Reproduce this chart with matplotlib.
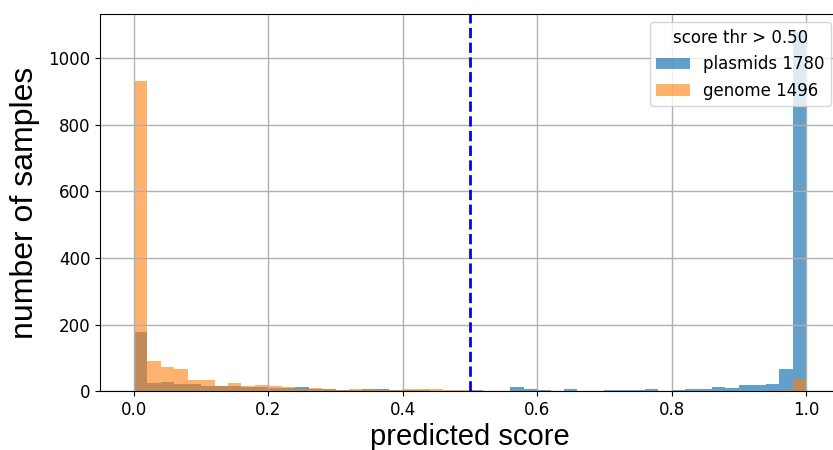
import numpy as np
import matplotlib
matplotlib.use('Agg')
import matplotlib.pyplot as plt

# histogram counts per bin (50 bins of width 0.02 on [0, 1])
bin_edges = np.linspace(0, 1, 51)

plasmids = [177, 25, 29, 21, 21, 15, 15, 15, 12, 12,
            10, 10, 14, 7, 6, 4, 4, 6, 7, 5,
            4, 3, 2, 2, 1, 4, 1, 1, 14, 7,
            4, 2, 7, 2, 2, 3, 4, 5, 6, 1,
            3, 8, 6, 13, 10, 19, 18, 23, 67, 1078]

genome = [932, 90, 73, 68, 35, 34, 15, 25, 15, 20,
          15, 14, 8, 11, 6, 5, 7, 6, 5, 5,
          6, 7, 7, 3, 3, 1, 1, 0, 1, 1,
          0, 1, 0, 1, 0, 0, 1, 0, 1, 0,
          0, 1, 1, 0, 1, 1, 2, 2, 3, 37]

threshold = 0.5
n_plasmids = 1780
n_genome = 1496

fig = plt.figure(figsize=(8.33, 4.5), dpi=100)
# the original figure is cut off on the right and bottom
ax = fig.add_axes([0.1205, 0.1304, 0.8874, 0.8384])

centers = bin_edges[:-1] + 0.01
ax.hist(centers, bins=bin_edges, weights=plasmids, color='tab:blue', alpha=0.7,
        label='plasmids %d' % n_plasmids)
ax.hist(centers, bins=bin_edges, weights=genome, color='tab:orange', alpha=0.6,
        label='genome %d' % n_genome)
ax.axvline(threshold, color='blue', linestyle='--', linewidth=2)

ax.grid(True, linewidth=1, color='#b0b0b0')
ax.tick_params(labelsize=12)
ax.set_xlabel('predicted score', fontsize=21, family='Liberation Sans', labelpad=3)
ax.set_ylabel('number of samples', fontsize=23, family='Liberation Sans', labelpad=6)
ax.legend(title='score thr > %.2f' % threshold, loc='upper right', fontsize=12,
          title_fontsize=12)

plt.savefig('out.png')
